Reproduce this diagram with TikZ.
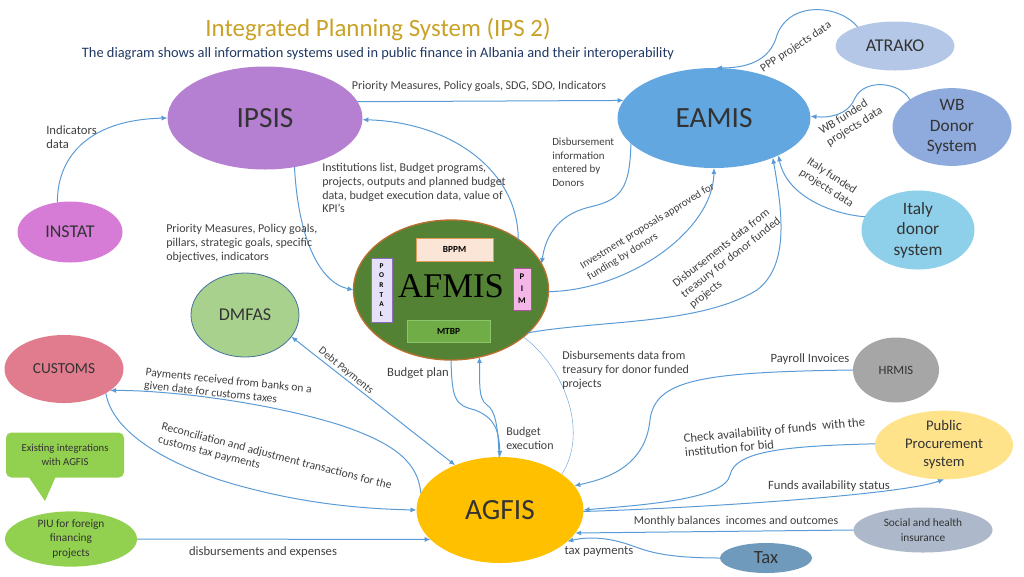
\documentclass[tikz,border=0pt]{standalone}
\usepackage{fontspec}
\setmainfont{Carlito}
\newfontfamily\serifx{Liberation Serif}
\usetikzlibrary{shapes.geometric,arrows.meta}
\definecolor{ln}{HTML}{5B9BD5}
\definecolor{txt}{HTML}{333333}
\definecolor{lbtxt}{HTML}{404040}
\definecolor{titc}{HTML}{C9A227}
\definecolor{subc}{HTML}{1F3864}
\definecolor{ipsisc}{HTML}{B57FD2}
\definecolor{eamisc}{HTML}{62A7E0}
\definecolor{atrakoc}{HTML}{B4C7E7}
\definecolor{wbc}{HTML}{8FAADC}
\definecolor{italyc}{HTML}{8ECFEA}
\definecolor{instatc}{HTML}{D67CD6}
\definecolor{dmfasc}{HTML}{A9D18E}
\definecolor{dmfasb}{HTML}{41719C}
\definecolor{afmisc}{HTML}{548235}
\definecolor{afmisb}{HTML}{B8702E}
\definecolor{customsc}{HTML}{E07C8D}
\definecolor{greenc}{HTML}{92D050}
\definecolor{agfisc}{HTML}{FFC000}
\definecolor{hrmisc}{HTML}{A6A6A6}
\definecolor{ppc}{HTML}{FFE38A}
\definecolor{socc}{HTML}{ADB9CA}
\definecolor{taxc}{HTML}{6F9ABB}
\definecolor{bppmc}{HTML}{FBE5D6}
\definecolor{bppmb}{HTML}{E09A5A}
\definecolor{portc}{HTML}{E6E0F8}
\definecolor{portb}{HTML}{8E6CC0}
\definecolor{pimc}{HTML}{F4B6E6}
\definecolor{pimb}{HTML}{B050A0}
\definecolor{mtbpc}{HTML}{70AD47}
\definecolor{mtbpb}{HTML}{8CC56A}
\begin{document}
\begin{tikzpicture}[x=0.75pt,y=-0.75pt,
  ell/.style={ellipse, inner sep=0pt, outer sep=0pt, text=txt, align=center},
  lbl/.style={font=\fontsize{9}{10.3}\selectfont, text=lbtxt, inner sep=0pt, align=left},
  lsm/.style={font=\fontsize{8.2}{10.1}\selectfont},
  lmd/.style={font=\fontsize{8.7}{10.1}\selectfont},
  lbg/.style={font=\fontsize{9.5}{10.5}\selectfont},
  con/.style={draw=ln, line width=0.75pt, -{Latex[length=4.5pt,width=3.8pt]}},
  box/.style={rectangle, inner sep=0pt, outer sep=0pt, line width=0.6pt, text=black, font=\fontsize{7}{8}\selectfont\bfseries},
]
\useasboundingbox (0,0) rectangle (1024,576);

% titles
\node[text=titc, font=\fontsize{18.7}{22}\selectfont, inner sep=0pt] (title) at (378,30) {Integrated Planning System (IPS 2)};
\node[text=subc, font=\fontsize{10.8}{13}\selectfont, inner sep=0pt] (subtitle) at (378,54) {The diagram shows all information systems used in public finance in Albania and their interoperability};

% nodes
\node[ell, fill=ipsisc, minimum width=146.25pt, minimum height=77.25pt, font=\fontsize{22}{26}\selectfont] (ipsis) at (265,118) {IPSIS};
\node[ell, fill=eamisc, minimum width=144.75pt, minimum height=75pt, font=\fontsize{22}{26}\selectfont] (eamis) at (714,118) {EAMIS};
\node[ell, fill=atrakoc, minimum width=89.25pt, minimum height=36.75pt, font=\fontsize{13.5}{16}\selectfont] (atrako) at (895,46) {ATRAKO};
\node[ell, fill=wbc, minimum width=89.25pt, minimum height=53.25pt, font=\fontsize{13}{15.4}\selectfont] (wb) at (952,127) {WB\\Donor\\System};
\node[ell, fill=italyc, minimum width=84.75pt, minimum height=53.25pt, font=\fontsize{13}{15.4}\selectfont] (italy) at (918,230) {Italy\\donor\\system};
\node[ell, fill=instatc, minimum width=78.75pt, minimum height=45.75pt, font=\fontsize{13.5}{16}\selectfont] (instat) at (70,232) {INSTAT};
\node[ell, fill=dmfasc, draw=dmfasb, line width=0.6pt, minimum width=81pt, minimum height=63pt, font=\fontsize{13.5}{16}\selectfont] (dmfas) at (245,315) {DMFAS};
\node[ell, fill=afmisc, draw=afmisb, line width=1pt, minimum width=146.25pt, minimum height=105pt] (afmis) at (451,290) {};
\node[inner sep=0pt, text=black, font=\serifx\fontsize{26}{28}\selectfont] (afmislbl) at (451,286) {AFMIS};
\node[box, fill=bppmc, draw=bppmb, minimum width=57.75pt, minimum height=17.25pt] (bppm) at (454.5,249.5) {BPPM};
\node[box, fill=portc, draw=portb, minimum width=15.75pt, minimum height=48pt, align=center, font=\fontsize{5.5}{7.3}\selectfont\bfseries] (portal) at (381.5,290) {P\\O\\R\\T\\A\\L};
\node[box, fill=pimc, draw=pimb, minimum width=13.5pt, minimum height=31.5pt, align=center, font=\fontsize{6.5}{9}\selectfont\bfseries] (pim) at (522,289) {P\\I\\M};
\node[box, fill=mtbpc, draw=mtbpb, minimum width=62.25pt, minimum height=16.5pt] (mtbp) at (448.5,331) {MTBP};
\node[ell, fill=customsc, minimum width=89.25pt, minimum height=51pt, font=\fontsize{11.5}{14}\selectfont] (customs) at (64,369) {CUSTOMS};
\node[rectangle, rounded corners=4pt, fill=greenc, minimum width=88.5pt, minimum height=33.75pt, inner sep=0pt, text=txt, align=center, font=\fontsize{8}{10.5}\selectfont] (callout) at (65,455) {Existing integrations\\with AGFIS};
\fill[greenc] (28,476) -- (45,501) -- (56,476) -- cycle;
\node[ell, fill=greenc, minimum width=99pt, minimum height=40.5pt, font=\fontsize{8.5}{11}\selectfont] (piu) at (71,539) {PIU for foreign\\financing\\projects};
\node[ell, fill=agfisc, minimum width=125.25pt, minimum height=79.5pt, font=\fontsize{22}{26}\selectfont] (agfis) at (500,510) {AGFIS};
\node[ell, fill=hrmisc, minimum width=64.5pt, minimum height=48.75pt, font=\fontsize{9.5}{11}\selectfont] (hrmis) at (896,370) {HRMIS};
\node[ell, fill=ppc, minimum width=103.5pt, minimum height=48pt, font=\fontsize{11}{13.5}\selectfont] (pp) at (944,445) {Public\\Procurement\\system};
\node[ell, fill=socc, minimum width=104.25pt, minimum height=33.75pt, font=\fontsize{8.5}{11.2}\selectfont] (social) at (923,530) {Social and health\\insurance};
\node[ell, fill=taxc, minimum width=69pt, minimum height=22.5pt, font=\fontsize{14}{16}\selectfont] (tax) at (766,558) {Tax};

% connectors
\draw[con] (atrako.153) .. controls (840,5) and (790,0) .. (777,35) .. controls (770,62) and (745,68) .. (eamis.88);
\draw[con] (wb.147) .. controls (900,82) and (865,78) .. (855,98) .. controls (848,115) and (830,118) .. (eamis.1);
\draw[con] (italy.166) .. controls (830,214) and (786,195) .. (eamis.-30);
\draw[con] (afmis.-29) .. controls (600,320) and (700,325) .. (757,290) .. controls (790,265) and (782,210) .. (eamis.-34);
\draw[con] (instat.113) .. controls (57,160) and (85,120) .. (ipsis.180);
\draw[con] (ipsis.10.5) -- (eamis.169);
\draw[con] (ipsis.-59) .. controls (298,235) and (318,282) .. (afmis.180);
\draw[con] (afmis.37) .. controls (518,170) and (450,122) .. (ipsis.-1);
\draw[con] (eamis.197) .. controls (630,190) and (620,200) .. (590,207) .. controls (555,215) and (545,240) .. (afmis.16);
\draw[con] (afmis.-1) .. controls (630,290) and (713,230) .. (eamis.-90);
\draw[draw=ln!80, line width=0.4pt] (afmis.-33) .. controls (562,365) and (590,430) .. (agfis.30);
\draw[con] (afmis.-90) .. controls (452,400) and (455,405) .. (475,410) .. controls (495,418) and (499,430) .. (agfis.90);
\draw[con] (agfis.91) .. controls (498,425) and (495,410) .. (487,405) .. controls (478,398) and (480,385) .. (afmis.-67);
\draw[con, {Latex[length=4.5pt,width=3.8pt]}-{Latex[length=4.5pt,width=3.8pt]}] (dmfas.-25) -- (agfis.135);
\draw[con] (agfis.168) .. controls (418,465) and (400,445) .. (340,425) .. controls (260,400) and (160,390) .. (customs.-25);
\draw[con] (customs.-30) .. controls (112,430) and (160,460) .. (220,480) .. controls (300,505) and (370,509) .. (agfis.180);
\draw[con] (piu.0) -- (agfis.203);
\draw[con] (hrmis.180) .. controls (700,372) and (655,380) .. (650,420) .. controls (645,470) and (600,480) .. (agfis.18);
\draw[con] (pp.179) .. controls (780,446) and (735,452) .. (730,475) .. controls (725,500) and (640,505) .. (agfis.0);
\draw[con] (agfis.-1) .. controls (700,508) and (900,495) .. (pp.-90);
\draw[con] (social.180) -- (agfis.-17);
\draw[con] (tax.180) .. controls (660,558) and (645,550) .. (630,545) .. controls (610,538) and (590,536) .. (agfis.-25);

% labels
\node[lbl, lmd, rotate=33.5] (l1) at (796,47) {PPP projects data};
\node[lbl, rotate=32] (l2) at (851,121) {WB funded\\projects data};
\node[lbl, lmd, rotate=-33] (l3) at (830,183) {Italy funded\\projects data};
\node[lbl, lbg, anchor=north west] (l4) at (46,125) {Indicators\\data};
\node[lbl] (l5) at (479,86) {Priority Measures, Policy goals, SDG, SDO, Indicators};
\node[lbl, anchor=north west] (l6) at (166,224) {Priority Measures, Policy goals,\\pillars, strategic goals, specific\\objectives, indicators};
\node[lbl, anchor=north west] (l7) at (322,163) {Institutions list, Budget programs,\\projects, outputs and planned budget\\data, budget execution data, value of\\KPI’s};
\node[lbl, lsm, anchor=north west] (l8) at (552,138) {Disbursement\\information\\entered by\\Donors};
\node[lbl, lsm, rotate=31.5] (l9) at (651,232) {Investment proposals approved for\\funding by donors};
\node[lbl, lmd, rotate=38] (l10) at (731,258) {Disbursements data from\\treasury for donor funded\\projects};
\node[lbl, lsm, rotate=-39.5] (l11) at (346,371) {Debt Payments};
\node[lbl, lmd, rotate=-6] (l12) at (228,388) {Payments received from banks on a\\given date for customs taxes};
\node[lbl, lmd, rotate=-14.5] (l13) at (275,463) {Reconciliation and adjustment transactions for the\\customs tax payments};
\node[lbl, lbg] (l14) at (418,373) {Budget plan};
\node[lbl, anchor=north west] (l15) at (506,427) {Budget\\execution};
\node[lbl, anchor=north west] (l16) at (562,351) {Disbursements data from\\treasury for donor funded\\projects};
\node[lbl, lbg] (l17) at (810,359) {Payroll Invoices};
\node[lbl, lbg, rotate=5.3] (l18) at (775,437) {Check availability of funds~ with the\\institution for bid};
\node[lbl, lbg] (l19) at (829,486) {Funds availability status};
\node[lbl] (l20) at (736,521) {Monthly balances~ incomes and outcomes};
\node[lbl, lbg] (l21) at (599,552) {tax payments};
\node[lbl, lbg] (l22) at (263,552) {disbursements and expenses};
\end{tikzpicture}
\end{document}
